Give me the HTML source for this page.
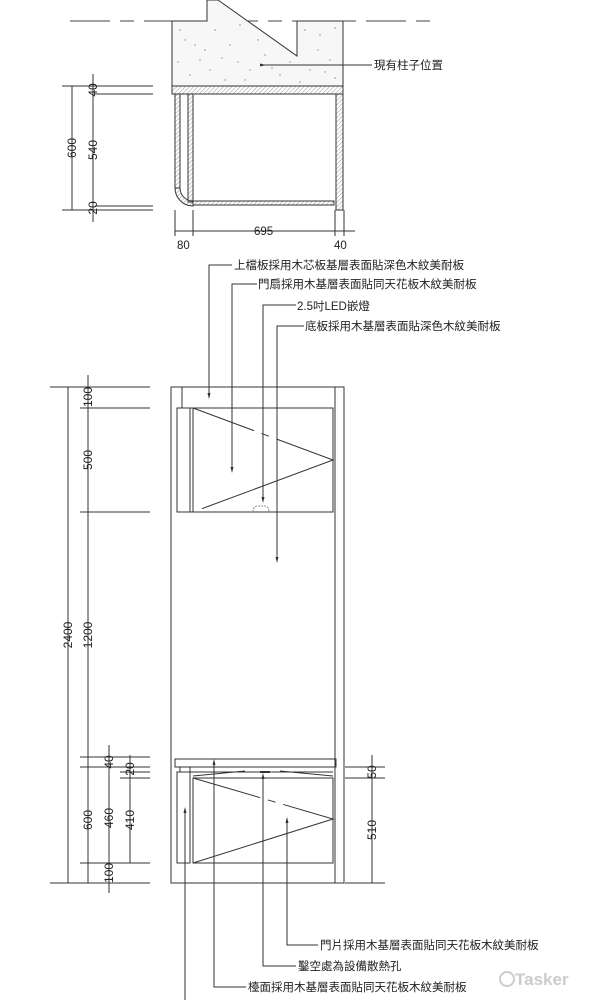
<!DOCTYPE html>
<html><head><meta charset="utf-8"><style>
html,body{margin:0;padding:0;background:#fff;}
svg{display:block;}
text{font-family:"Liberation Sans","Noto Sans CJK TC",sans-serif;fill:#222;}
</style></head><body>
<svg width="600" height="1000" viewBox="0 0 600 1000" xmlns="http://www.w3.org/2000/svg">
<defs>
<pattern id="h" width="3" height="3" patternUnits="userSpaceOnUse" patternTransform="rotate(45)">
<line x1="0" y1="0" x2="0" y2="3" stroke="#999" stroke-width="1"/></pattern>
<marker id="a" markerWidth="6" markerHeight="6" refX="3" refY="3" orient="auto"><path d="M0,1.5 L6,3 L0,4.5z" fill="#333"/></marker>
</defs>
<g stroke="#333" stroke-width="1" fill="none">
<!-- top plan -->
<line x1="70" y1="21" x2="440" y2="21" stroke-dasharray="40,10,14,10" stroke="#444"/>
<path d="M172,21 L207,21 L207,0 L218,0 L297,56 L297,21 L343,21 L343,86 L172,86Z" fill="#f7f7f7" stroke="#333"/>
<g fill="#888" stroke="none">
<circle cx="185" cy="40" r=".7"/><circle cx="200" cy="60" r=".7"/><circle cx="230" cy="45" r=".7"/><circle cx="250" cy="70" r=".7"/><circle cx="215" cy="30" r=".7"/><circle cx="320" cy="35" r=".7"/><circle cx="330" cy="60" r=".7"/><circle cx="280" cy="75" r=".7"/><circle cx="190" cy="75" r=".7"/><circle cx="240" cy="25" r=".7"/><circle cx="310" cy="70" r=".7"/><circle cx="265" cy="55" r=".7"/><circle cx="205" cy="50" r=".7"/><circle cx="225" cy="80" r=".7"/><circle cx="300" cy="82" r=".7"/>
<circle cx="180" cy="30" r=".7"/><circle cx="195" cy="45" r=".7"/><circle cx="210" cy="70" r=".7"/><circle cx="238" cy="62" r=".7"/><circle cx="258" cy="40" r=".7"/><circle cx="272" cy="68" r=".7"/><circle cx="290" cy="62" r=".7"/><circle cx="305" cy="30" r=".7"/><circle cx="318" cy="50" r=".7"/><circle cx="335" cy="78" r=".7"/><circle cx="335" cy="28" r=".7"/><circle cx="178" cy="62" r=".7"/><circle cx="245" cy="80" r=".7"/><circle cx="222" cy="58" r=".7"/><circle cx="325" cy="72" r=".7"/>
</g>
<rect x="172" y="86" width="171" height="8" fill="url(#h)"/>
<rect x="336" y="94" width="7" height="116" fill="url(#h)"/>
<rect x="175" y="94" width="5" height="94" fill="url(#h)"/>
<path d="M175,188 A18,18 0 0 0 193,206 L193,201 A13,13 0 0 1 180,188Z" fill="url(#h)"/>
<rect x="188" y="94" width="5" height="108" fill="url(#h)"/>
<rect x="193" y="201" width="141" height="4" fill="url(#h)"/>
<line x1="263" y1="65" x2="372" y2="65" marker-start="url(#a)"/>
<!-- top plan dims -->
<line x1="62" y1="86" x2="153" y2="86"/><line x1="95" y1="94" x2="153" y2="94"/>
<line x1="95" y1="206" x2="153" y2="206"/><line x1="62" y1="210" x2="153" y2="210"/>
<line x1="72" y1="86" x2="72" y2="210"/>
<line x1="93" y1="74" x2="93" y2="222"/>
<line x1="175" y1="210" x2="175" y2="236"/><line x1="193" y1="210" x2="193" y2="236"/>
<line x1="335" y1="210" x2="335" y2="236"/><line x1="344" y1="210" x2="344" y2="236"/>
<line x1="175" y1="231" x2="355" y2="231"/>
<!-- elevation -->
<rect x="171" y="387" width="173" height="496"/>
<line x1="335" y1="387" x2="335" y2="883"/>
<line x1="182" y1="387" x2="182" y2="408"/>
<rect x="177" y="408" width="156" height="104"/>
<line x1="190" y1="408" x2="190" y2="512"/>
<line x1="193" y1="408" x2="193" y2="512"/>
<path d="M193,408 L333,460 L193,512" stroke-dasharray="65,8,8,8,200"/>
<path d="M253,512 q0,-6 5,-6 h6 q5,0 5,6" stroke="#888" stroke-dasharray="2,1"/>
<!-- lower -->
<rect x="175" y="759" width="161" height="8"/>
<rect x="177" y="772" width="13" height="91"/>
<line x1="180" y1="767" x2="180" y2="772"/><line x1="190" y1="767" x2="190" y2="772"/>
<line x1="190" y1="767" x2="333" y2="767"/><line x1="190" y1="772" x2="333" y2="772"/>
<line x1="193" y1="776" x2="245" y2="771" /><line x1="280" y1="771" x2="333" y2="776"/>
<line x1="260" y1="772" x2="270" y2="772" stroke-width="2"/>
<rect x="193" y="778" width="140" height="85"/>
<path d="M193,778 L333,819 L193,863" stroke-dasharray="70,8,8,8,200"/>
<!-- elevation dims left -->
<line x1="50" y1="387" x2="150" y2="387"/><line x1="80" y1="408" x2="150" y2="408"/>
<line x1="80" y1="512" x2="150" y2="512"/><line x1="80" y1="757" x2="150" y2="757"/>
<line x1="80" y1="767" x2="150" y2="767"/><line x1="120" y1="772" x2="150" y2="772"/>
<line x1="120" y1="778" x2="150" y2="778"/><line x1="80" y1="863" x2="150" y2="863"/>
<line x1="50" y1="883" x2="150" y2="883"/>
<line x1="68" y1="387" x2="68" y2="883"/>
<line x1="88" y1="375" x2="88" y2="883"/>
<line x1="109" y1="745" x2="109" y2="893"/>
<line x1="130" y1="755" x2="130" y2="863"/>
<!-- right dims -->
<line x1="345" y1="767" x2="385" y2="767"/><line x1="345" y1="778" x2="385" y2="778"/>
<line x1="345" y1="883" x2="385" y2="883"/>
<line x1="372" y1="755" x2="372" y2="883"/>
<!-- leaders top -->
<polyline points="232,265 209,265 209,396" marker-end="url(#a)"/>
<polyline points="257,284 232,284 232,470" marker-end="url(#a)"/>
<polyline points="296,305 263,305 263,500" marker-end="url(#a)"/>
<polyline points="304,326 277,326 277,560" marker-end="url(#a)"/>
<!-- leaders bottom -->
<polyline points="318,945 287,945 287,820" marker-end="url(#a)"/>
<polyline points="296,966 263,966 263,776" marker-end="url(#a)"/>
<polyline points="246,987 214,987 214,762" marker-end="url(#a)"/>
<polyline points="185,1000 185,810" marker-end="url(#a)"/>
</g>
<g font-size="11.5">
<text x="374" y="69">現有柱子位置</text>
<text x="234" y="269">上檔板採用木芯板基層表面貼深色木紋美耐板</text>
<text x="258" y="288">門扇採用木基層表面貼同天花板木紋美耐板</text>
<text x="297" y="310">2.5吋LED嵌燈</text>
<text x="305" y="330">底板採用木基層表面貼深色木紋美耐板</text>
<text x="320" y="949">門片採用木基層表面貼同天花板木紋美耐板</text>
<text x="298" y="970">鑿空處為設備散熱孔</text>
<text x="248" y="991">檯面採用木基層表面貼同天花板木紋美耐板</text>
<text x="254" y="235">695</text>
<text x="177" y="249">80</text>
<text x="334" y="249">40</text>
</g>
<g font-size="12" text-anchor="middle">
<text transform="translate(76,148) rotate(-90)">600</text>
<text transform="translate(97,150) rotate(-90)">540</text>
<text transform="translate(97,90) rotate(-90)">40</text>
<text transform="translate(97,208) rotate(-90)">20</text>
<text transform="translate(72,635) rotate(-90)">2400</text>
<text transform="translate(92,397) rotate(-90)">100</text>
<text transform="translate(92,460) rotate(-90)">500</text>
<text transform="translate(92,635) rotate(-90)">1200</text>
<text transform="translate(92,820) rotate(-90)">600</text>
<text transform="translate(113,762) rotate(-90)">40</text>
<text transform="translate(113,818) rotate(-90)">460</text>
<text transform="translate(113,873) rotate(-90)">100</text>
<text transform="translate(134,769) rotate(-90)">20</text>
<text transform="translate(134,820) rotate(-90)">410</text>
<text transform="translate(376,772) rotate(-90)">50</text>
<text transform="translate(376,830) rotate(-90)">510</text>
</g>
<text x="515" y="985" font-size="17" font-weight="bold" style="fill:#ccc">Tasker</text>
<circle cx="507" cy="979" r="7" fill="none" stroke="#ccc" stroke-width="2"/>
</svg>
</body></html>
